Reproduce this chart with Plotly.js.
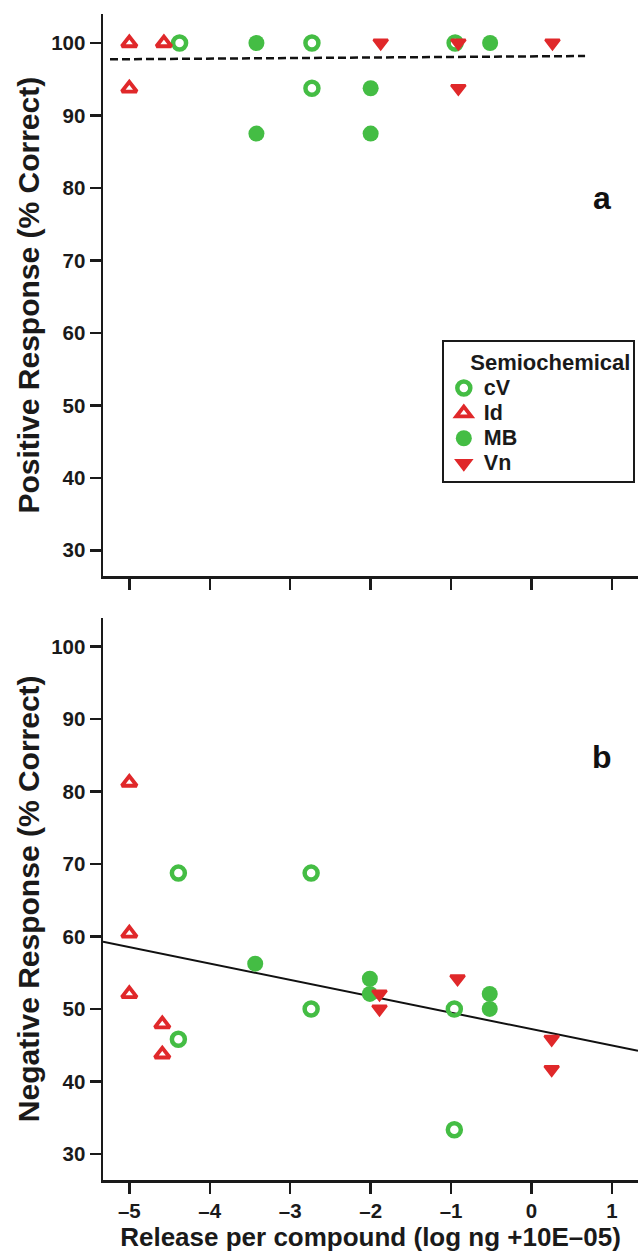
<!DOCTYPE html>
<html>
<head>
<meta charset="utf-8">
<script src="https://cdn.plot.ly/plotly-3.0.1.min.js"></script>
<style>html,body{margin:0;padding:0;background:#fff;}#chart{width:638px;height:1257px;}</style>
</head>
<body>
<div id="chart"></div>
<script>
// ---- data (panel a: positive response) ----
const cV_top_x = [-4.375, -2.73, -2.73, -0.95];
const cV_top_y = [100, 100, 93.75, 100];
const Id_top_x = [-5, -4.57, -5];
const Id_top_y = [100, 100, 93.75];
const MB_top_x = [-3.42, -3.42, -2.0, -2.0, -0.515];
const MB_top_y = [100, 87.5, 93.75, 87.5, 100];
const Vn_top_x = [-1.875, -0.91, -0.91, 0.26];
const Vn_top_y = [100, 100, 93.75, 100];
const fitTop_x = [-5.24, 0.665];
const fitTop_y = [97.75, 98.2];

// ---- data (panel b: negative response) ----
const cV_bot_x = [-4.39, -4.39, -2.74, -2.74, -0.96, -0.96];
const cV_bot_y = [68.75, 45.83, 68.75, 50, 50, 33.33];
const Id_bot_x = [-5, -5, -5, -4.59, -4.59];
const Id_bot_y = [81.25, 60.42, 52.08, 47.92, 43.75];
const MB_bot_x = [-3.435, -2.01, -2.01, -0.52, -0.52];
const MB_bot_y = [56.25, 54.17, 52.08, 52.08, 50];
const Vn_bot_x = [-1.89, -1.89, -0.92, 0.25, 0.25];
const Vn_bot_y = [52.08, 50, 54.17, 45.83, 41.67];
const fitBot_x = [-5.327, 1.323];
const fitBot_y = [59.28, 44.23];

// ---- ticks / labels ----
const xTickVals = [-5, -4, -3, -2, -1, 0, 1];
const xTickText = ['\u20135', '\u20134', '\u20133', '\u20132', '\u20131', '0', '1'];
const yTickVals = [30, 40, 50, 60, 70, 80, 90, 100];
const seriesNames = ['cV', 'Id', 'MB', 'Vn'];
const legendTitle = 'Semiochemical';

const GREEN = '#44bd44';
const RED = '#e0282a';
const FONT = 'Liberation Sans, Arial, Helvetica, sans-serif';

const styles = {
  cV: {symbol: 'circle-open', size: 13, color: GREEN, line: {color: GREEN, width: 4.5}},
  Id: {symbol: 'triangle-up-open', size: 13, color: RED, line: {color: RED, width: 3.8}},
  MB: {symbol: 'circle', size: 16, color: GREEN, line: {width: 0}},
  Vn: {symbol: 'triangle-down', size: 12.5, color: RED, line: {color: RED, width: 2.5}}
};

const panelA = {cV: [cV_top_x, cV_top_y], Id: [Id_top_x, Id_top_y], MB: [MB_top_x, MB_top_y], Vn: [Vn_top_x, Vn_top_y]};
const panelB = {cV: [cV_bot_x, cV_bot_y], Id: [Id_bot_x, Id_bot_y], MB: [MB_bot_x, MB_bot_y], Vn: [Vn_bot_x, Vn_bot_y]};

const traces = [];
traces.push({x: fitTop_x, y: fitTop_y, xaxis: 'x2', yaxis: 'y2', mode: 'lines',
  line: {color: '#111', width: 2.5, dash: '8px,4px'}, showlegend: false, hoverinfo: 'skip'});
traces.push({x: fitBot_x, y: fitBot_y, xaxis: 'x', yaxis: 'y', mode: 'lines',
  line: {color: '#111', width: 2}, showlegend: false, hoverinfo: 'skip'});
seriesNames.forEach(n => {
  const label = '<span style="font-size:21.5px">' + n + '</span>';
  traces.push({x: panelA[n][0], y: panelA[n][1], xaxis: 'x2', yaxis: 'y2', mode: 'markers', name: label,
    legendgroup: n, showlegend: true, marker: styles[n], cliponaxis: false});
  traces.push({x: panelB[n][0], y: panelB[n][1], xaxis: 'x', yaxis: 'y', mode: 'markers', name: label,
    legendgroup: n, showlegend: false, marker: styles[n], cliponaxis: false});
});

const axisCommon = {
  showgrid: false, zeroline: false, showline: true, linecolor: '#1a1a1a', linewidth: 2.5,
  ticks: 'outside', ticklen: 11, tickwidth: 2.5, tickcolor: '#1a1a1a',
  ticklabeloverflow: 'allow',
  tickfont: {family: FONT, size: 20.5, color: '#1a1a1a', weight: 'bold'}
};
const xRange = [-5.327, 1.323];
const yRange = [26.4, 104];

const layout = {
  width: 638, height: 1257,
  margin: {l: 102.7, r: 0, t: 13.7, b: 76.7},
  paper_bgcolor: '#fff', plot_bgcolor: '#fff',
  font: {family: FONT, color: '#1a1a1a', weight: 'bold'},
  showlegend: true,
  xaxis: Object.assign({}, axisCommon, {
    domain: [0, 1], anchor: 'y', range: xRange, tickvals: xTickVals, ticktext: xTickText,
    title: {text: 'Release per compound (log ng +10E\u201305)', standoff: 7,
      font: {family: FONT, size: 26, color: '#1a1a1a', weight: 'bold'}}
  }),
  xaxis2: Object.assign({}, axisCommon, {
    domain: [0, 1], anchor: 'y2', range: xRange, tickvals: xTickVals, showticklabels: false
  }),
  yaxis: Object.assign({}, axisCommon, {
    domain: [0, 0.4823], anchor: 'x', range: yRange, tickvals: yTickVals,
    title: {text: 'Negative Response (% Correct)', standoff: 3,
      font: {family: FONT, size: 30, color: '#1a1a1a', weight: 'bold'}}
  }),
  yaxis2: Object.assign({}, axisCommon, {
    domain: [0.5177, 1], anchor: 'x2', range: yRange, tickvals: yTickVals,
    title: {text: 'Positive Response (% Correct)', standoff: 3,
      font: {family: FONT, size: 30, color: '#1a1a1a', weight: 'bold'}}
  }),
  legend: {
    x: 0.6333, y: 0.7205, xanchor: 'left', yanchor: 'top',
    bgcolor: '#fff', bordercolor: '#1a1a1a', borderwidth: 2,
    font: {family: FONT, size: 17, color: '#1a1a1a', weight: 'bold'},
    title: {text: '&nbsp;&nbsp;&nbsp;&nbsp;' + legendTitle, side: 'top', font: {family: FONT, size: 22, color: '#1a1a1a', weight: 'bold'}},
    tracegroupgap: 0, itemwidth: 30
  },
  annotations: [
    {text: 'a', xref: 'x2', yref: 'y2', x: 0.87, y: 78.6, showarrow: false,
      font: {family: FONT, size: 32, color: '#111', weight: 'bold'}, xanchor: 'center', yanchor: 'middle'},
    {text: 'b', xref: 'x', yref: 'y', x: 0.87, y: 84.8, showarrow: false,
      font: {family: FONT, size: 32, color: '#111', weight: 'bold'}, xanchor: 'center', yanchor: 'middle'}
  ]
};

Plotly.newPlot('chart', traces, layout, {displayModeBar: false, staticPlot: true});
</script>
</body>
</html>
